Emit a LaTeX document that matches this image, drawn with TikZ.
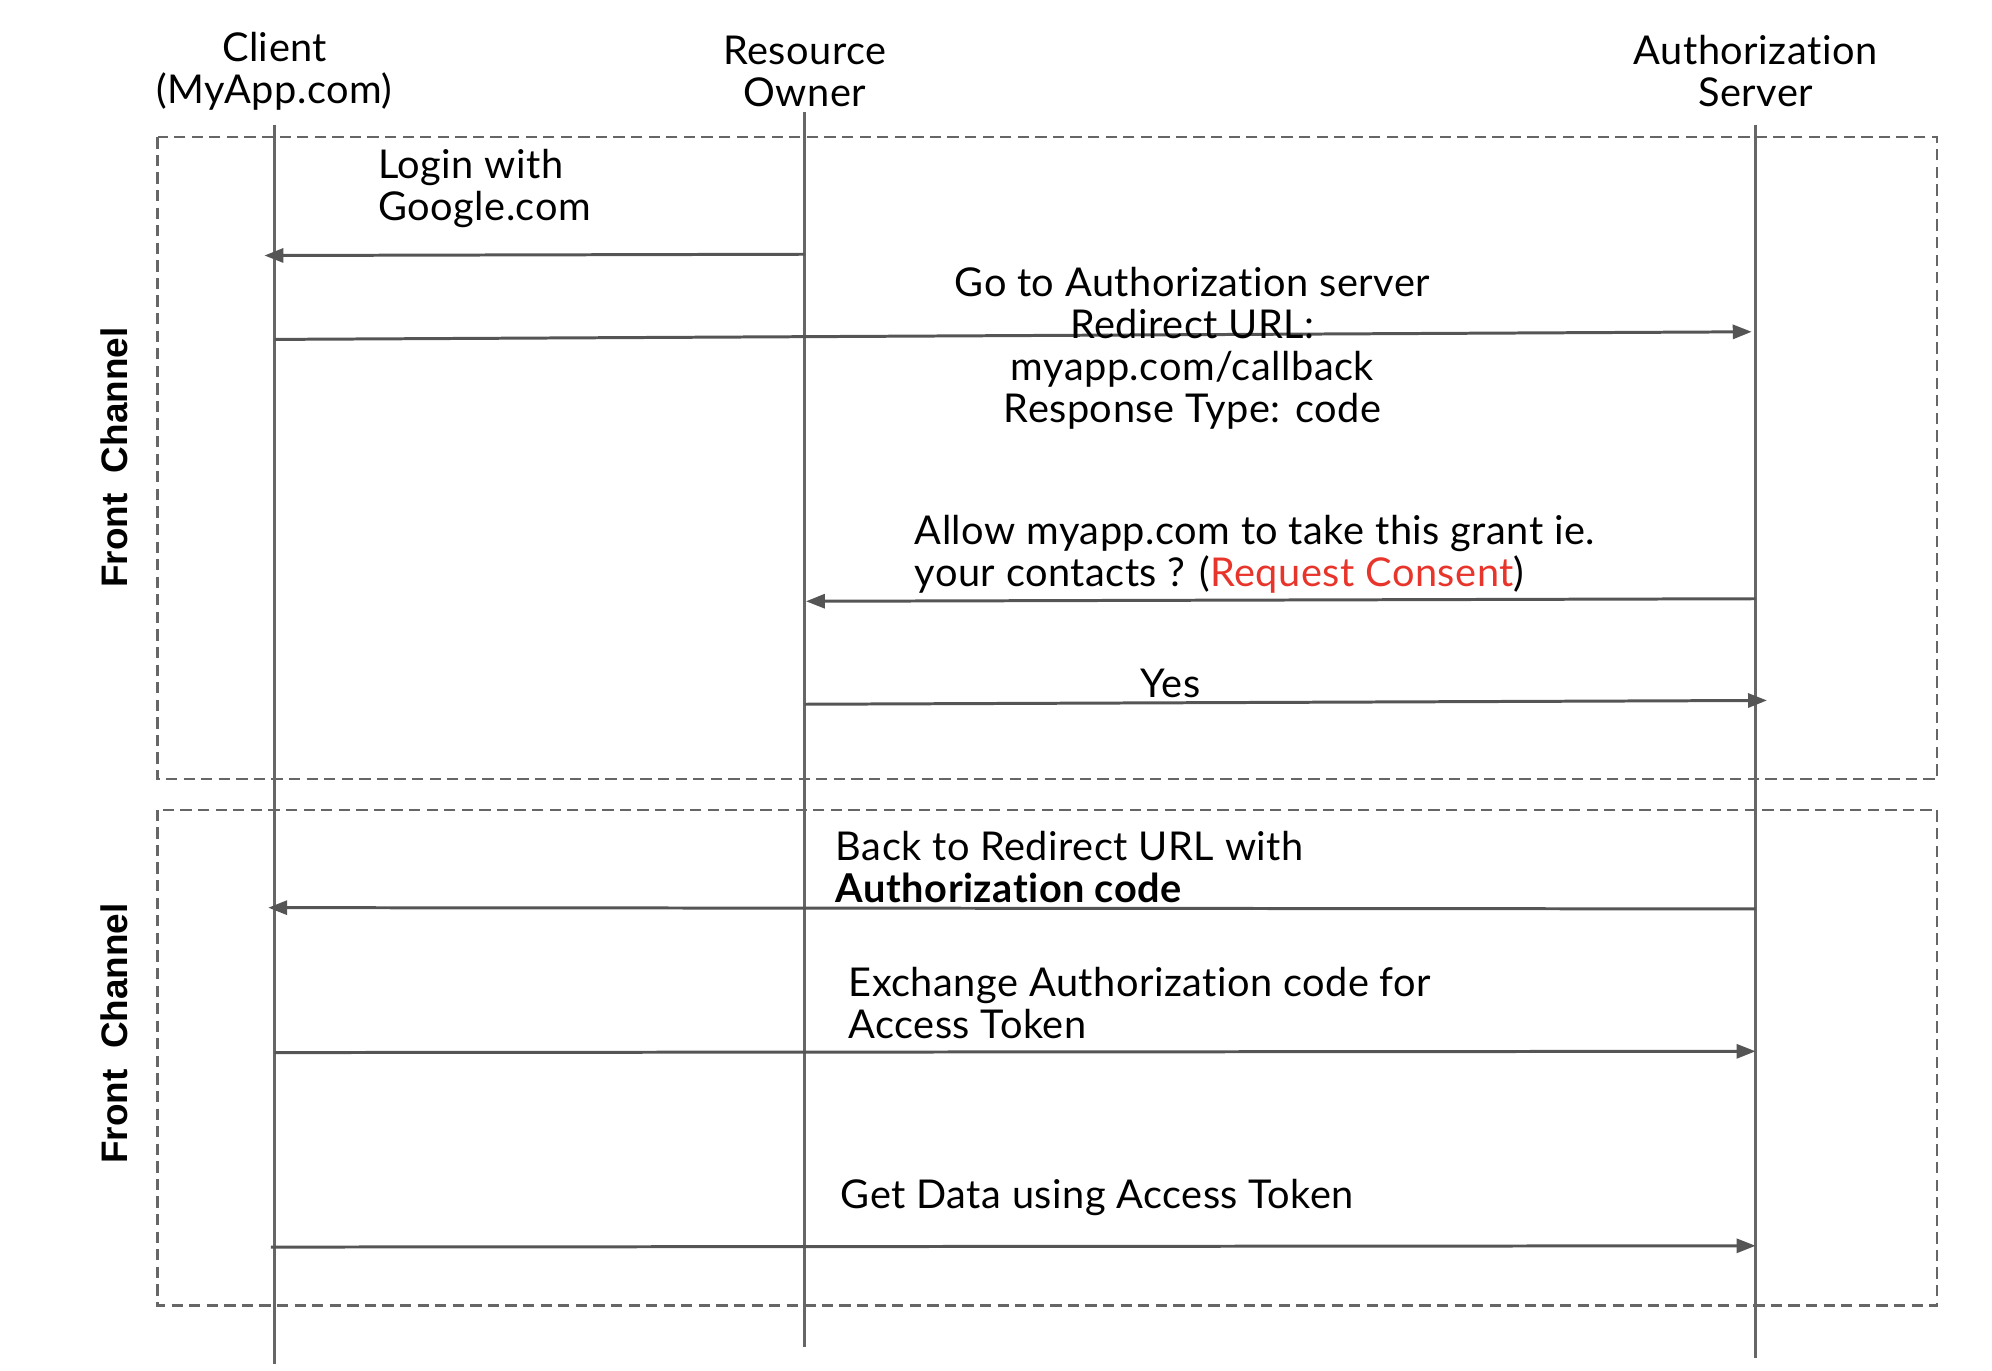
\documentclass[tikz,border=0pt]{standalone}
\usepackage{fontspec}
\setmainfont[LetterSpace=1.3,Ligatures=CommonOff]{Lato}
\newfontfamily\sidefont{Liberation Sans}
\usetikzlibrary{arrows.meta}
\definecolor{linegray}{HTML}{555555}
\definecolor{lifegray}{HTML}{666666}
\definecolor{consentred}{HTML}{E8352B}

\begin{document}
\begin{tikzpicture}[x=0.01271cm,y=-0.01271cm,
  every node/.style={inner sep=0pt,font=\fontsize{11.3}{12}\selectfont},
  lifeline/.style={draw=lifegray,line width=0.7pt},
  msg/.style={draw=linegray,line width=0.85pt,-{Triangle[length=5.4pt,width=4pt]}},
  channel/.style={draw=lifegray,line width=0.65pt,dash pattern=on 3.2pt off 1.8pt},
  sidelabel/.style={rotate=90,font=\sidefont\bfseries\fontsize{10.5}{12}\selectfont}]
\path[use as bounding box] (0,0) rectangle (1567,1078);

% the two channel boxes
\draw[channel] (124,108) rectangle (1524,613);
\draw[channel] (124,637) rectangle (1524,1027);
\node[sidelabel] (front1) at (90,360) {Front\ \ Channel};
\node[sidelabel] (front2) at (90,813) {Front\ \ Channel};

% actors
\node[align=center] (client) at (216,56) {Client\\(MyApp.com)};
\node[align=center] (owner) at (633,56) {Resource\\Owner};
\node[align=center] (server) at (1381,56) {Authorization\\Server};

\coordinate (client top) at (216,98);
\coordinate (client bot) at (216,1073);
\coordinate (owner top) at (633,88);
\coordinate (owner bot) at (633,1060);
\coordinate (server top) at (1381,98);
\coordinate (server bot) at (1381,1068);
\draw[lifeline] (client top) -- (client bot);
\draw[lifeline] (owner top) -- (owner bot);
\draw[lifeline] (server top) -- (server bot);

% message ends
\coordinate (m1a) at (633,200);
\coordinate (m1b) at (208,201);
\coordinate (m2a) at (216,267);
\coordinate (m2b) at (1378,261);
\coordinate (m3a) at (1381,471);
\coordinate (m3b) at (634,473);
\coordinate (m4a) at (633,554);
\coordinate (m4b) at (1390,551);
\coordinate (m5a) at (1381,715);
\coordinate (m5b) at (211,714);
\coordinate (m6a) at (216,828);
\coordinate (m6b) at (1381,827);
\coordinate (m7a) at (213,981);
\coordinate (m7b) at (1381,980);

\draw[msg] (m1a) -- (m1b);
\draw[msg] (m2a) -- (m2b);
\draw[msg] (m3a) -- (m3b);
\draw[msg] (m4a) -- (m4b);
\draw[msg] (m5a) -- (m5b);
\draw[msg] (m6a) -- (m6b);
\draw[msg] (m7a) -- (m7b);

% message labels
\node[anchor=west,align=left] (login) at (297,148) {Login with\\Google.com};
\node[align=center] (goto) at (938,274) {Go to Authorization server\\Redirect URL:\\myapp.com/callback\\Response Type: code};
\node[anchor=west,align=left] (consent) at (719,436) {Allow myapp.com to take this grant ie.\\your contacts ? (\textcolor{consentred}{Request Consent})};
\node (yes) at (921,538) {Yes};
\node[anchor=west,align=left] (back) at (657,682) {Back to Redirect URL with\\\textbf{Authorization code}};
\node[anchor=west,align=left] (exchange) at (667,789) {Exchange Authorization code for\\Access Token};
\node[anchor=west] (getdata) at (661,942) {Get Data using Access Token};
\end{tikzpicture}
\end{document}
